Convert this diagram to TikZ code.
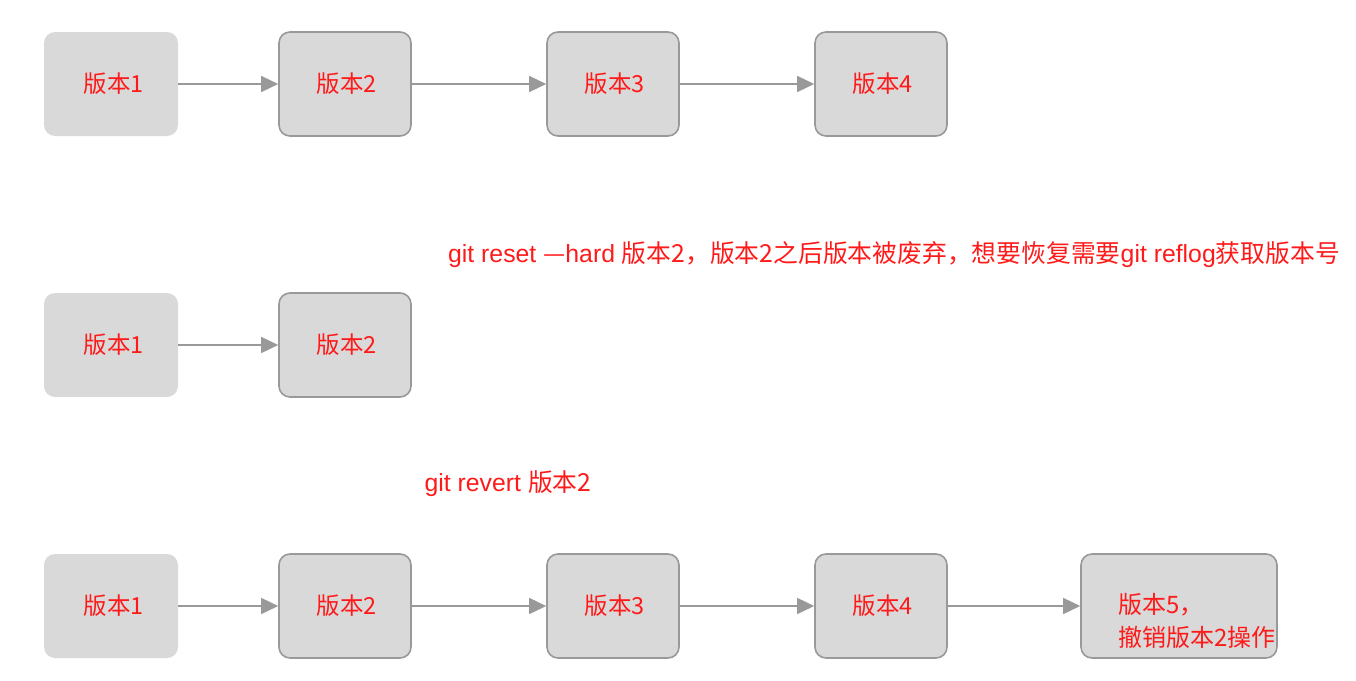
\documentclass[tikz,border=0pt]{standalone}
\usepackage{fontspec}
\setmainfont{Noto Sans CJK SC}
\newfontfamily\latfont{Liberation Sans}
\newcommand{\lat}[1]{{\latfont #1}}
\usetikzlibrary{arrows.meta,positioning}
\definecolor{boxgray}{HTML}{D9D9D9}
\definecolor{linegray}{HTML}{999999}
\definecolor{txtred}{HTML}{FF1A1A}

\begin{document}
\begin{tikzpicture}[x=1pt,y=-1pt,
    ver/.style={fill=boxgray, rounded corners=11pt, minimum width=134pt, minimum height=104pt, inner sep=0pt},
    verline/.style={ver, draw=linegray, line width=1.6pt, minimum width=132pt},
    every node/.style={text=txtred, font=\fontsize{23.5}{33}\selectfont},
    note/.style={font=\fontsize{24.8}{30}\selectfont},
    flow/.style={draw=linegray, fill=linegray, line width=1.5pt, -{Triangle[length=17pt,width=16pt]}}]
  \useasboundingbox (0,0) rectangle (1356,680);

  % Row 1: the full history
  \node[ver] (a1) at (111,84) {\hspace{6pt}版本1};
  \node[verline] (a2) at (345,84) {\hspace{4pt}版本2};
  \node[verline] (a3) at (613,84) {\hspace{4pt}版本3};
  \node[verline] (a4) at (881,84) {\hspace{4pt}版本4};

  % Row 2: after git reset --hard
  \node[note] (resetnote) at (894,255) {\lat{git reset }—\lat{hard }版本2，版本2之后版本被废弃，想要恢复需要\lat{git reflog}获取版本号};
  \node[ver] (b1) at (111,345) {\hspace{6pt}版本1};
  \node[verline] (b2) at (345,345) {\hspace{4pt}版本2};

  % Row 3: after git revert
  \node[note] (revertnote) at (508,484) {\lat{git revert }版本2};
  \node[ver] (c1) at (111,606) {\hspace{6pt}版本1};
  \node[verline] (c2) at (345,606) {\hspace{4pt}版本2};
  \node[verline] (c3) at (613,606) {\hspace{4pt}版本3};
  \node[verline] (c4) at (881,606) {\hspace{4pt}版本4};
  \node[verline, minimum width=196pt] (c5) at (1179,606) {};
  \node[anchor=west, align=left, inner sep=0pt, font=\fontsize{24}{33}\selectfont] (c5text) at (1118,621) {版本5，\\撤销版本2操作};

  % Arrows
  \path
    (a1) edge[flow] (a2)
    (a2) edge[flow] (a3)
    (a3) edge[flow] (a4)
    (b1) edge[flow] (b2)
    (c1) edge[flow] (c2)
    (c2) edge[flow] (c3)
    (c3) edge[flow] (c4)
    (c4) edge[flow] (c5);
\end{tikzpicture}
\end{document}
